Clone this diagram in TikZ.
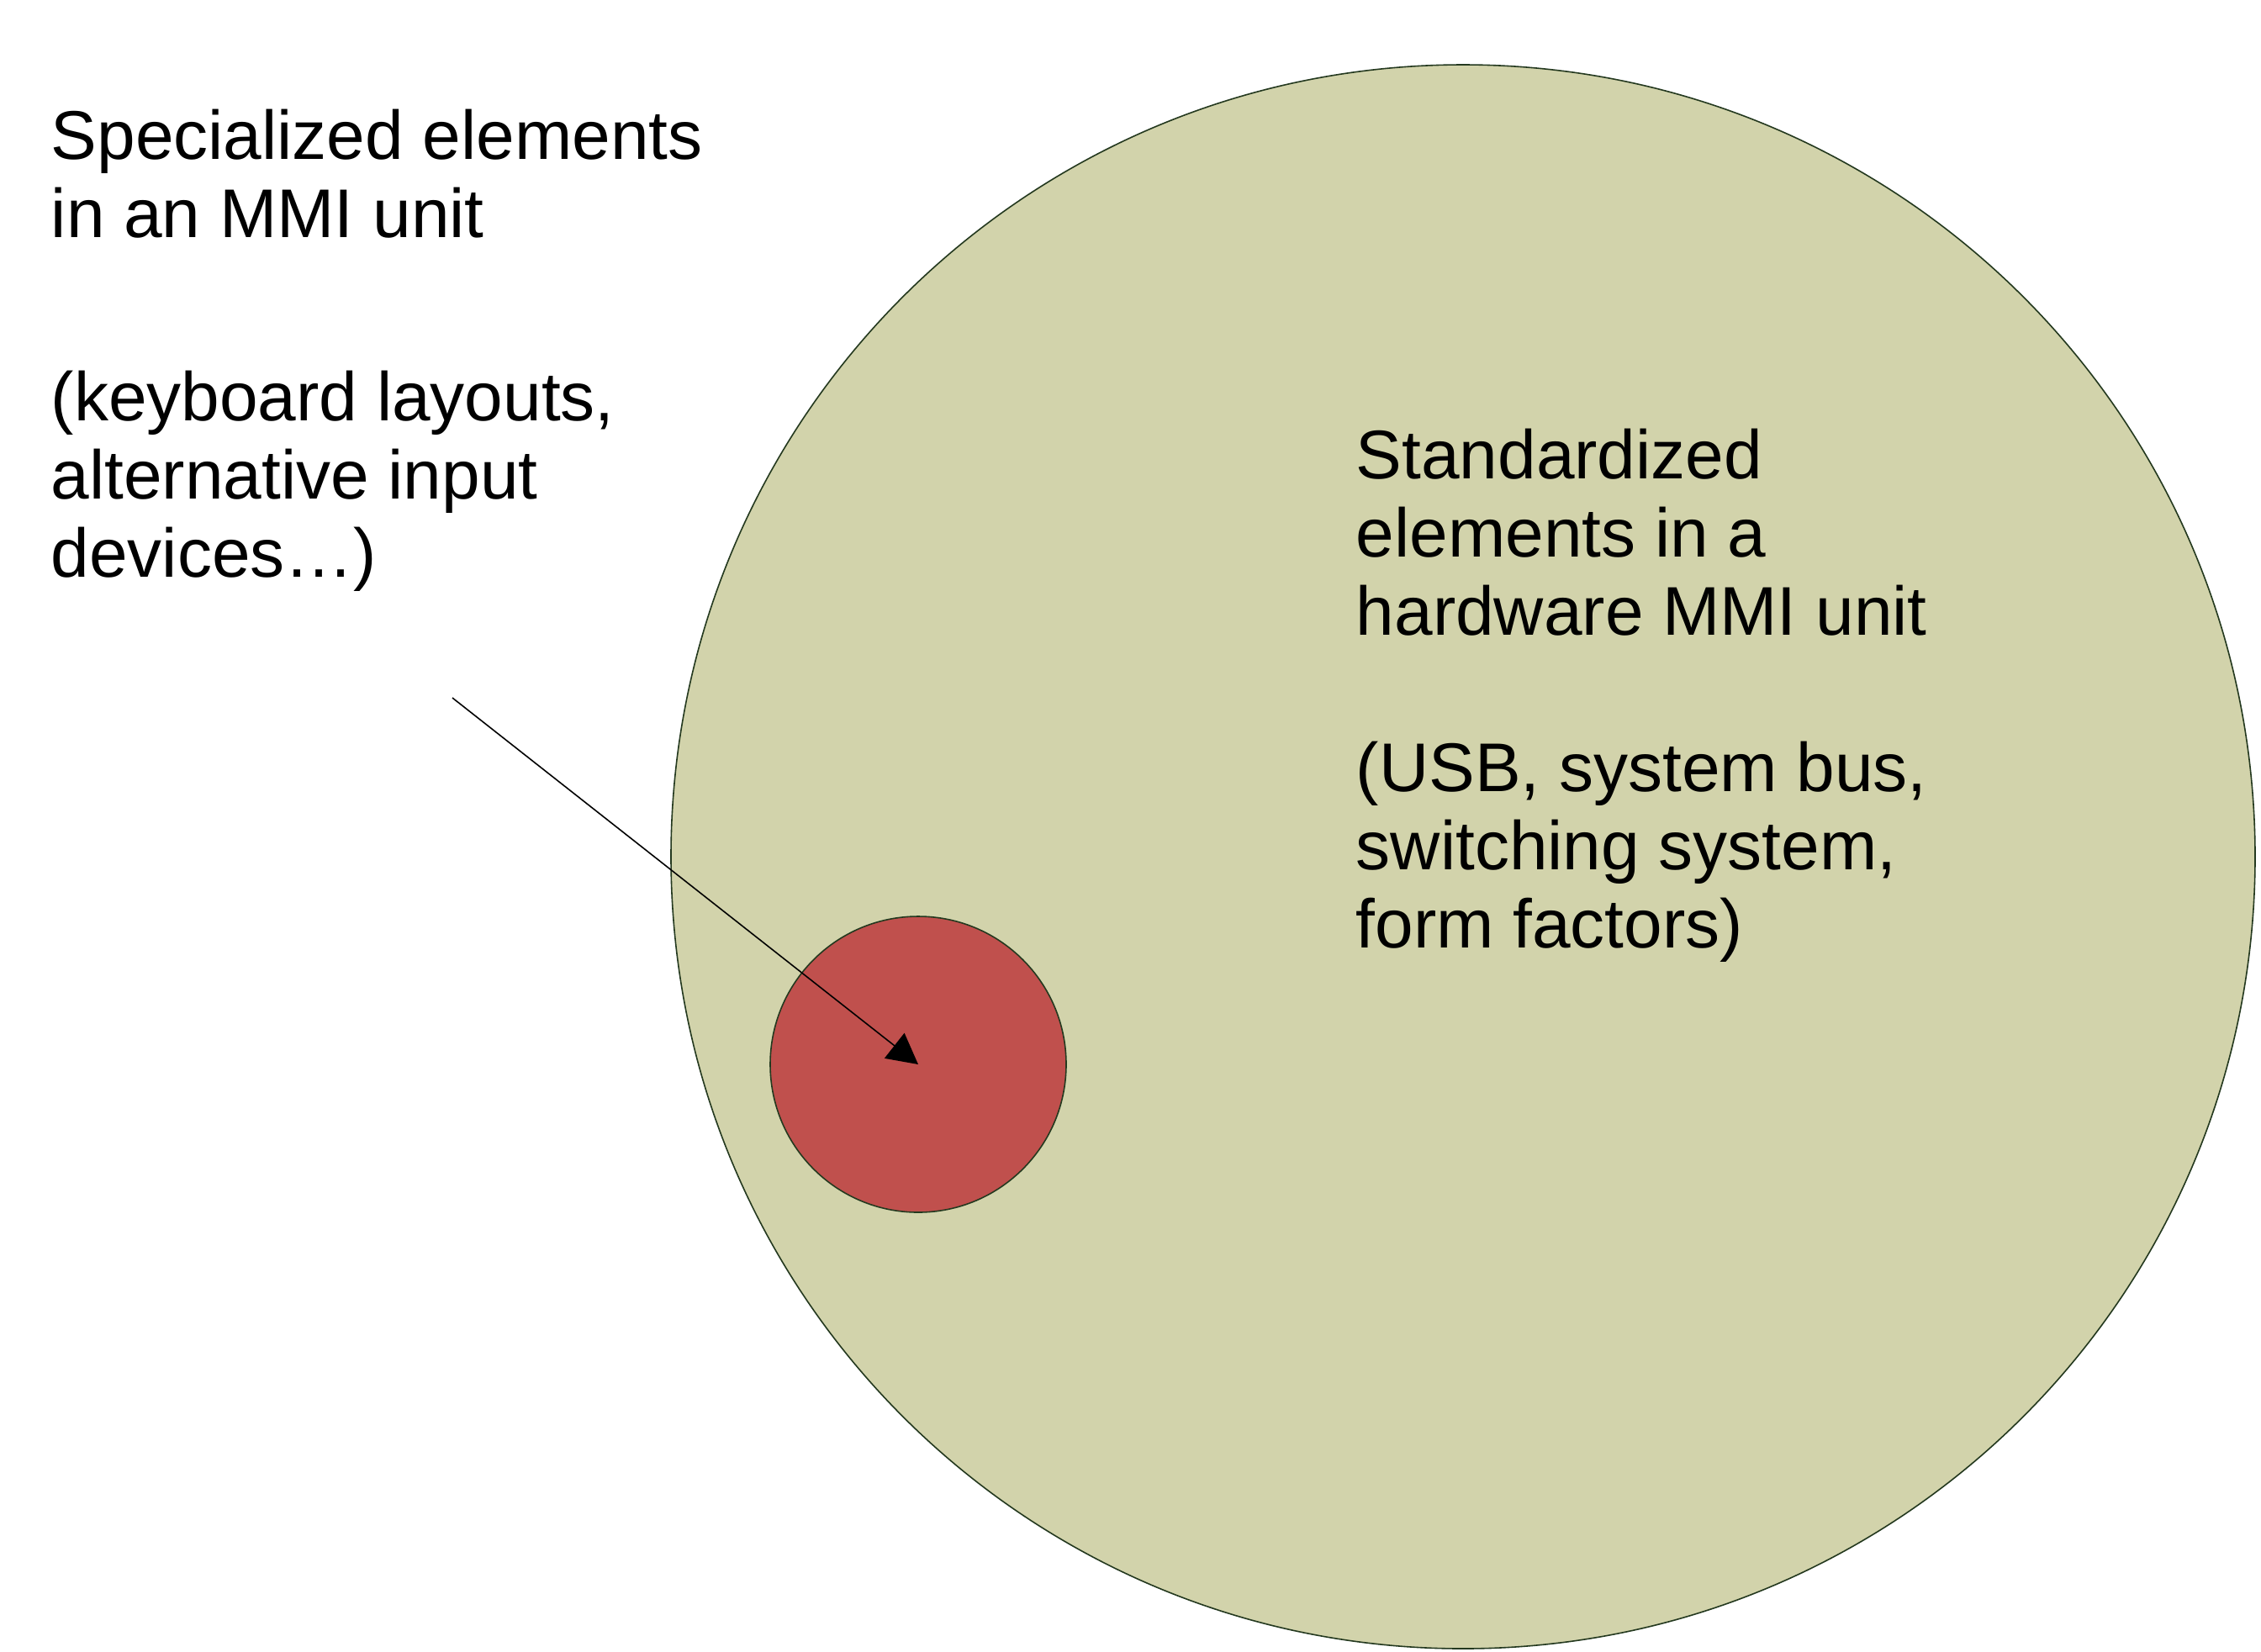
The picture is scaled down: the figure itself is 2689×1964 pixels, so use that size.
\documentclass[tikz,border=0pt]{standalone}
\usepackage{fontspec}
\setmainfont{Liberation Sans}
\usetikzlibrary{arrows.meta,positioning}

\definecolor{hwfill}{HTML}{D2D3AB}
\definecolor{spfill}{HTML}{C0504D}
\definecolor{rimcol}{HTML}{24391F}

\begin{document}
\begin{tikzpicture}[x=0.25pt, y=-0.25pt, >={Triangle[length=9pt,width=9.5pt]},
    unit/.style={circle, draw=rimcol, line width=0.4pt, inner sep=0pt},
    label/.style={anchor=base west, align=left, inner sep=0pt,
        font=\fontsize{20.5pt}{23.25pt}\selectfont}]
    \useasboundingbox (0,0) rectangle (2689,1964);

    % Circles {hw, special}
    \node [unit, fill=hwfill, minimum size=471pt]   (hw)      at (1740,1019) {};
    \node [unit, fill=spfill, minimum size=88pt]    (special) at (1092,1266) {};

    % Texts (base = last line)
    \node [label]   (spTitle)  at (60,282)    {Specialized elements\\in an MMI unit};
    \node [label]   (spList)   at (60,686)    {(keyboard layouts,\\alternative input\\devices…)};
    \node [label]   (hwTitle)  at (1612,755)  {Standardized\\elements in a\\hardware MMI unit};
    \node [label]   (hwList)   at (1612,1127) {(USB, system bus,\\switching system,\\form factors)};

    % Arrow
    \coordinate (tail) at (538,830);
    \draw [->, line width=0.4pt] (tail) -- (special.center);

\end{tikzpicture}
\end{document}
